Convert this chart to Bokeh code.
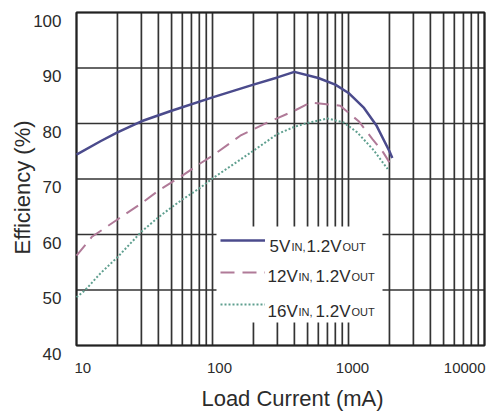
from bokeh.plotting import figure
from bokeh.models import Range1d, Label, Legend, LegendItem
from bokeh.embed import file_html
from bokeh.resources import INLINE
import math

# ---- data ----
current_5v = [10, 15, 20, 30, 50, 100, 200, 300, 400, 600, 800, 1000, 1300, 1600, 2000, 2100]
eff_5v = [74.4, 76.8, 78.4, 80.4, 82.3, 84.7, 87.0, 88.3, 89.3, 88.2, 87.0, 85.5, 82.8, 79.7, 75.0, 73.8]

current_12v = [10, 13, 20, 30, 40, 50, 60, 80, 100, 160, 250, 400, 525, 870, 1200, 1500, 1800, 2000]
eff_12v = [56.2, 59.6, 62.7, 65.6, 67.9, 69.4, 70.6, 72.7, 74.2, 77.8, 80.1, 82.3, 83.8, 83.2, 80.3, 77.2, 74.8, 73.0]

current_16v = [10, 11.6, 15, 20, 30, 40, 50, 60, 80, 100, 200, 300, 400, 500, 700, 920, 1160, 1530, 1940]
eff_16v = [48.7, 50.0, 53.0, 55.9, 60.5, 63.1, 64.9, 66.3, 68.3, 70.1, 75.1, 78.1, 79.4, 80.1, 80.9, 80.2, 78.4, 75.2, 71.8]

y_ticks = [40, 50, 60, 70, 80, 90, 100]
y_tick_labels = ["40", "50", "60", "70", "80", "90", "100"]
x_ticks = [10, 100, 1000, 10000]
x_tick_labels = ["10", "100", "1000", "10000"]
x_grid = [m * 10 ** e for e in (1, 2, 3) for m in range(1, 10)] + [10000]
x_min, x_max = 10, 10000
y_min, y_max = 40, 100

# legend pieces: (main, sub, main, sub)
legend_parts = [
    ("5V", "IN,", "1.2V", "OUT"),
    ("12V", "IN,", "1.2V", "OUT"),
    ("16V", "IN,", "1.2V", "OUT"),
]

# ---- layout / styles ----
W, H = 489, 415
PL, PR, PT, PB = 76, 484, 12, 345      # plot box in pixels
FONT = "Liberation Sans"
TXT = "#2b2b2b"
GRID = "#333333"
colors = ["#4b4b8c", "#b07a98", "#5f9f8f"]

dec_px = (PR - PL) / math.log10(x_max / x_min)
x_lo = x_min * 10 ** (-PL / dec_px)
x_hi = x_max * 10 ** ((W - PR) / dec_px)
unit_px = (PB - PT) / (y_max - y_min)
y_hi = y_max + PT / unit_px
y_lo = y_min - (H - PB) / unit_px


def px_x(px):
    return x_lo * 10 ** (px / dec_px)


def px_y(py):
    return y_hi - py / unit_px


p = figure(width=W, height=H, x_axis_type="log",
           x_range=Range1d(x_lo, x_hi), y_range=Range1d(y_lo, y_hi),
           output_backend="svg", toolbar_location=None,
           min_border_left=0, min_border_right=0, min_border_top=0, min_border_bottom=0)
p.xaxis.visible = False
p.yaxis.visible = False
p.xgrid.visible = False
p.ygrid.visible = False
p.outline_line_color = None
p.background_fill_color = "white"
p.border_fill_color = "white"

# grid lines (plot box only)
p.segment(x0=x_grid, y0=[y_min] * len(x_grid), x1=x_grid, y1=[y_max] * len(x_grid),
          line_color=GRID, line_width=1.7)
p.segment(x0=[x_min] * len(y_ticks), y0=y_ticks, x1=[x_max] * len(y_ticks), y1=y_ticks,
          line_color=GRID, line_width=1.7)
p.quad(left=[x_min], right=[x_max], bottom=[y_min], top=[y_max],
       fill_color=None, line_color="#222222", line_width=2)

# white legend background (hides grid behind the legend)
LG_L, LG_R, LG_T, LG_B = 216, 382, 226, 322
p.quad(left=[px_x(LG_L)], right=[px_x(LG_R)], top=[px_y(LG_T)], bottom=[px_y(LG_B)],
       fill_color="white", line_color=None)

r1 = p.line(current_5v, eff_5v, line_color=colors[0], line_width=2.5)
r2 = p.line(current_12v, eff_12v, line_color=colors[1], line_width=2, line_dash="14 8")
r3 = p.line(current_16v, eff_16v, line_color=colors[2], line_width=2, line_dash="2 2")

legend = Legend(items=[LegendItem(label=" ", renderers=[r]) for r in (r1, r2, r3)],
                location=(LG_L, H - LG_B), glyph_width=45, glyph_height=28, spacing=4,
                padding=4, margin=0, label_standoff=5, label_width=110,
                background_fill_alpha=0.0, border_line_alpha=0,
                label_text_font_size="1px")
p.add_layout(legend)

# legend texts with subscripts (pixel positions)
row_y = [246, 276, 311]
piece_x = [(269, 291, 306, 342), (267, 298, 315, 351), (267, 298, 315, 351)]
for parts, xs, yb in zip(legend_parts, piece_x, row_y):
    for i, (t, xx) in enumerate(zip(parts, xs)):
        sub = i % 2 == 1
        p.add_layout(Label(x=xx, y=H - yb, x_units="screen", y_units="screen", text=t,
                           text_font=FONT, text_font_size="11px" if sub else "17px",
                           text_color=TXT, text_baseline="alphabetic", text_align="left"))

# y tick labels
for v, t in zip(y_ticks, y_tick_labels):
    p.add_layout(Label(x=x_min, y=v, x_offset=-15, y_offset=-8, text=t, text_font=FONT,
                       text_font_size="17px", text_color=TXT, text_align="right",
                       text_baseline="middle"))

# x tick labels
x_aligns = ["left", "center", "center", "right"]
x_offs = [-2, 7, 4, 1]
for v, t, a, o in zip(x_ticks, x_tick_labels, x_aligns, x_offs):
    p.add_layout(Label(x=v, y=y_min, x_offset=o, y_offset=-22, text=t, text_font=FONT,
                       text_font_size="15px", text_color=TXT, text_align=a,
                       text_baseline="middle"))

# axis titles
p.add_layout(Label(x=292, y=H - 398, x_units="screen", y_units="screen",
                   text="Load Current (mA)", text_font=FONT, text_font_size="22px",
                   text_color=TXT, text_align="center", text_baseline="middle"))
p.add_layout(Label(x=22, y=H - 187, x_units="screen", y_units="screen",
                   text="Efficiency (%)", text_font=FONT, text_font_size="22px",
                   text_color=TXT, text_align="center", text_baseline="middle",
                   angle=math.pi / 2))

open("out.html", "w").write(file_html(p, INLINE))
